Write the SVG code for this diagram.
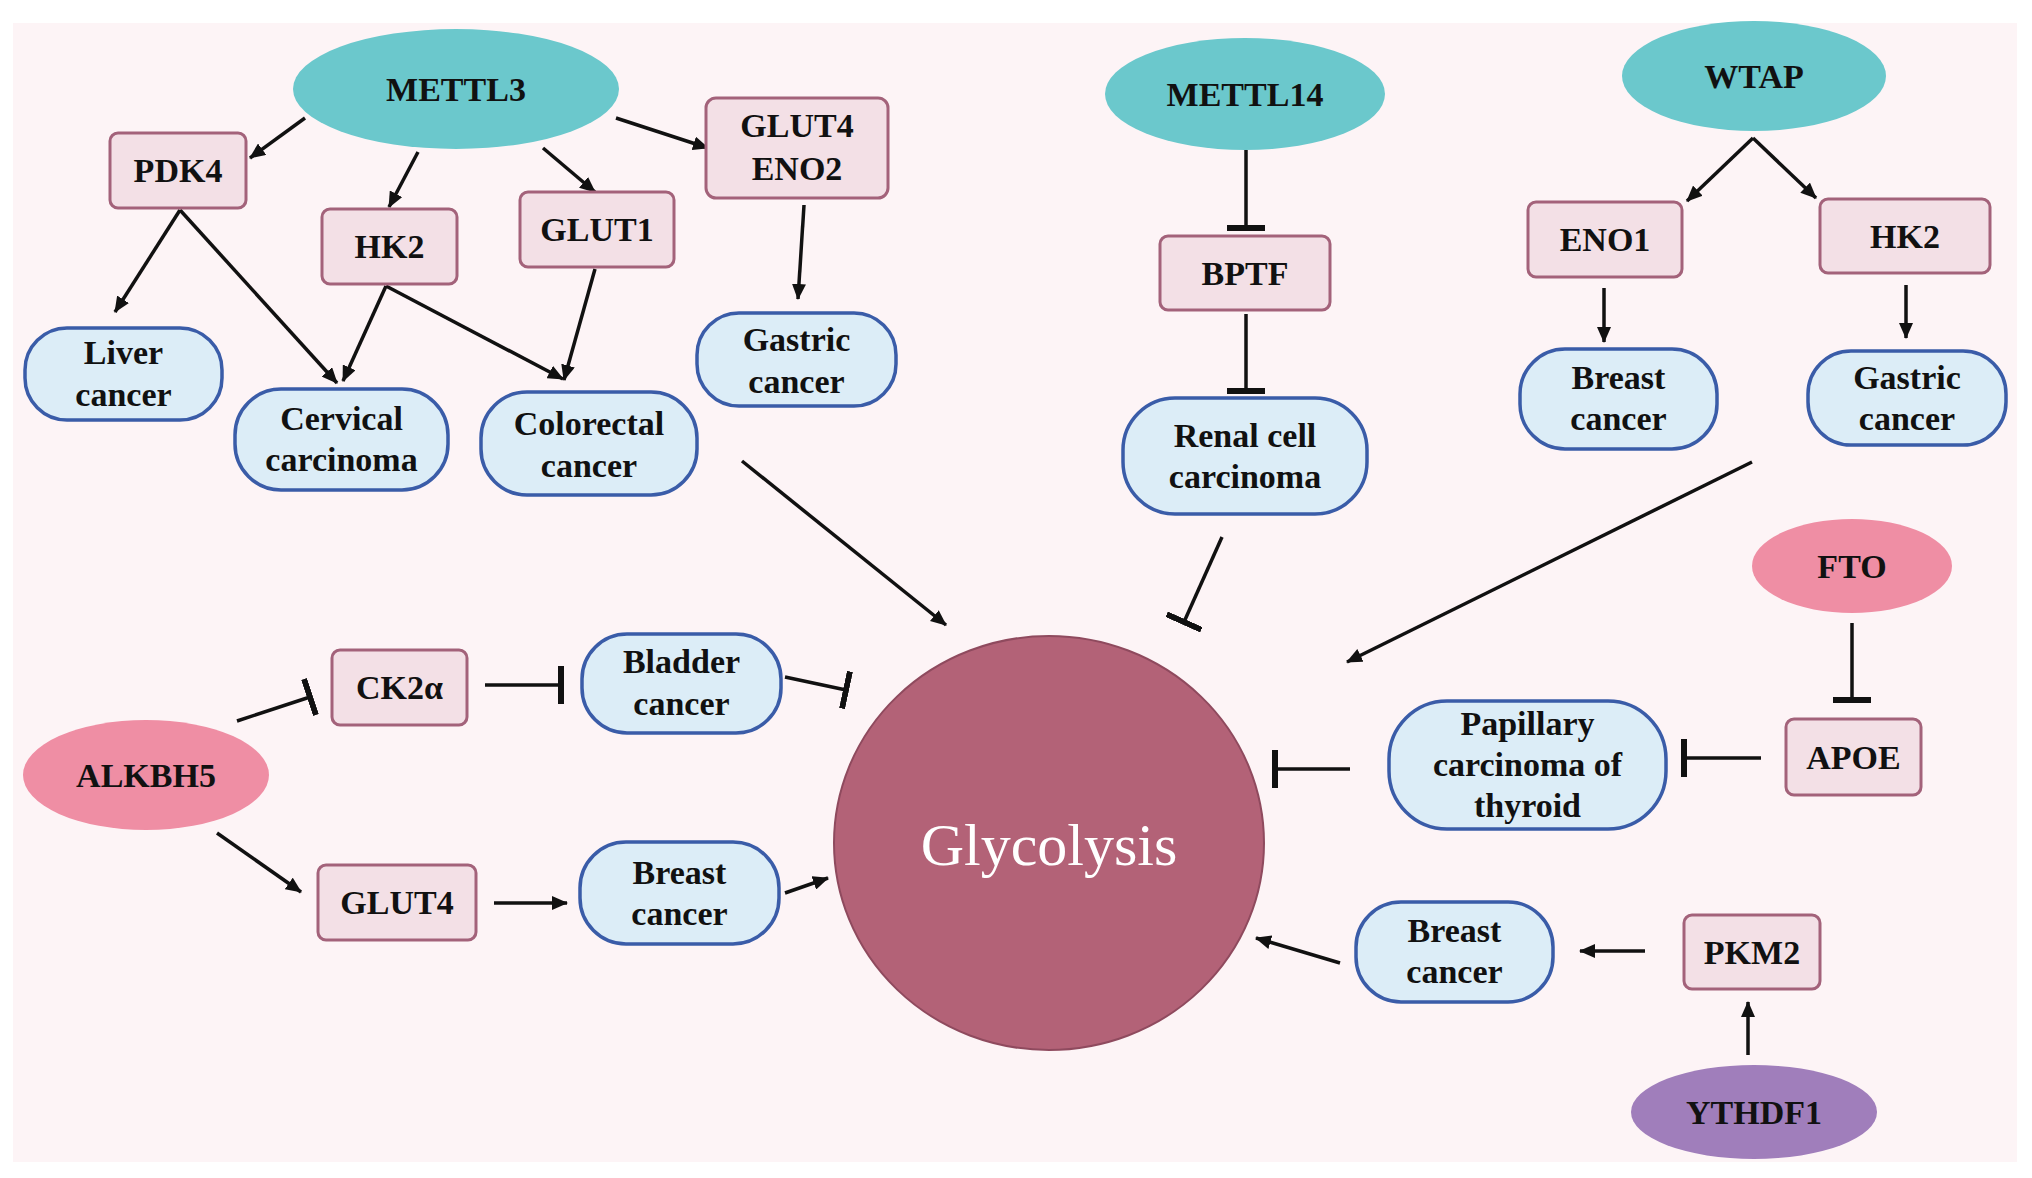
<svg xmlns="http://www.w3.org/2000/svg" width="2032" height="1178" viewBox="0 0 2032 1178">
<defs>
<marker id="arr" markerUnits="userSpaceOnUse" markerWidth="16" markerHeight="14" viewBox="0 0 16 14" refX="15" refY="7" orient="auto">
<path d="M0,0 L16,7 L0,14 z" fill="#111"/>
</marker>
<marker id="tee" markerUnits="userSpaceOnUse" markerWidth="6" markerHeight="38" viewBox="0 0 6 38" refX="3" refY="19" orient="auto">
<rect x="0" y="0" width="6" height="38" fill="#111"/>
</marker>
<style>
.bg{fill:#fdf4f6}
.teal{fill:#6bc8cc}
.pink{fill:#ef8ea4}
.purple{fill:#a07ebb}
.gene{fill:#f3e0e6;stroke:#a3627a;stroke-width:3}
.cancer{fill:#dcedf7;stroke:#3a5ca8;stroke-width:3.5}
.glyco{fill:#b36277;stroke:#8f4a5e;stroke-width:2}
text{font-family:"Liberation Serif","Times New Roman",serif;font-weight:bold;font-size:34px;fill:#111;text-anchor:middle}
.gt{font-weight:normal;font-size:60px;fill:#ffffff}
.a{stroke:#111;stroke-width:3.5;fill:none;marker-end:url(#arr)}
.t{stroke:#111;stroke-width:3.5;fill:none;marker-end:url(#tee)}
</style>
</defs>
<rect x="0" y="0" width="2032" height="1178" fill="#ffffff"/>
<rect class="bg" x="13" y="23" width="2004" height="1139"/>

<g id="connectors">
<path class="a" d="M305,118 L250,158"/>
<path class="a" d="M418,152 L389,207"/>
<path class="a" d="M543,148 L595,192"/>
<path class="a" d="M616,118 L708,148"/>
<path class="a" d="M180,210 L115,312"/>
<path class="a" d="M180,210 L337,383"/>
<path class="a" d="M386,286 L343,381"/>
<path class="a" d="M386,286 L563,379"/>
<path class="a" d="M595,269 L564,380"/>
<path class="a" d="M804,205 L798,299"/>
<path class="a" d="M742,461 L946,625"/>
<path class="a" d="M1753,138 L1687,201"/>
<path class="a" d="M1753,138 L1816,198"/>
<path class="a" d="M1604,288 L1604,342"/>
<path class="a" d="M1906,285 L1906,338"/>
<path class="a" d="M1752,462 L1347,662"/>
<path class="a" d="M217,833 L301,892"/>
<path class="a" d="M494,903 L567,903"/>
<path class="a" d="M785,893 L828,878"/>
<path class="a" d="M1645,951 L1580,951"/>
<path class="a" d="M1340,963 L1256,938"/>
<path class="a" d="M1748,1055 L1748,1002"/>
<path class="t" d="M1246,150 L1246,228"/>
<path class="t" d="M1246,314 L1246,391"/>
<path class="t" d="M1222,537 L1184,622"/>
<path class="t" d="M237,721 L310,697"/>
<path class="t" d="M485,685 L561,685"/>
<path class="t" d="M785,677 L846,690"/>
<path class="t" d="M1852,623 L1852,700"/>
<path class="t" d="M1761,758 L1684,758"/>
<path class="t" d="M1350,769 L1275,769"/>
</g>

<g id="glycolysis"><ellipse class="glyco" cx="1049" cy="843" rx="215" ry="207"/><text class="gt" x="1049" y="865">Glycolysis</text></g>

<g id="mettl3"><ellipse class="teal" cx="456" cy="89" rx="163" ry="60"/><text x="456" y="101">METTL3</text></g>
<g id="mettl14"><ellipse class="teal" cx="1245" cy="94" rx="140" ry="56"/><text x="1245" y="106">METTL14</text></g>
<g id="wtap"><ellipse class="teal" cx="1754" cy="76" rx="132" ry="55"/><text x="1754" y="88">WTAP</text></g>
<g id="fto"><ellipse class="pink" cx="1852" cy="566" rx="100" ry="47"/><text x="1852" y="578">FTO</text></g>
<g id="alkbh5"><ellipse class="pink" cx="146" cy="775" rx="123" ry="55"/><text x="146" y="787">ALKBH5</text></g>
<g id="ythdf1"><ellipse class="purple" cx="1754" cy="1112" rx="123" ry="47"/><text x="1754" y="1124">YTHDF1</text></g>

<g id="pdk4"><rect class="gene" x="110" y="133" width="136" height="75" rx="8"/><text x="178" y="182">PDK4</text></g>
<g id="hk2-left"><rect class="gene" x="322" y="209" width="135" height="75" rx="8"/><text x="389.5" y="258">HK2</text></g>
<g id="glut1"><rect class="gene" x="520" y="192" width="154" height="75" rx="8"/><text x="597" y="241">GLUT1</text></g>
<g id="glut4-eno2"><rect class="gene" x="706" y="98" width="182" height="100" rx="10"/><text x="797" y="137">GLUT4</text><text x="797" y="180">ENO2</text></g>
<g id="bptf"><rect class="gene" x="1160" y="236" width="170" height="74" rx="8"/><text x="1245" y="285">BPTF</text></g>
<g id="eno1"><rect class="gene" x="1528" y="202" width="154" height="75" rx="8"/><text x="1605" y="251">ENO1</text></g>
<g id="hk2-right"><rect class="gene" x="1820" y="199" width="170" height="74" rx="8"/><text x="1905" y="248">HK2</text></g>
<g id="ck2a"><rect class="gene" x="332" y="650" width="135" height="75" rx="8"/><text x="399.5" y="699">CK2α</text></g>
<g id="glut4"><rect class="gene" x="318" y="865" width="158" height="75" rx="8"/><text x="397" y="914">GLUT4</text></g>
<g id="apoe"><rect class="gene" x="1786" y="719" width="135" height="76" rx="8"/><text x="1853.5" y="769">APOE</text></g>
<g id="pkm2"><rect class="gene" x="1684" y="915" width="136" height="74" rx="8"/><text x="1752" y="964">PKM2</text></g>

<g id="liver-cancer"><rect class="cancer" x="25" y="328" width="197" height="92" rx="42"/><text x="123.5" y="364">Liver</text><text x="123.5" y="406">cancer</text></g>
<g id="cervical-carcinoma"><rect class="cancer" x="235" y="389" width="213" height="101" rx="46"/><text x="341.5" y="430">Cervical</text><text x="341.5" y="471">carcinoma</text></g>
<g id="colorectal-cancer"><rect class="cancer" x="481" y="392" width="216" height="103" rx="46"/><text x="589" y="435">Colorectal</text><text x="589" y="477">cancer</text></g>
<g id="gastric-cancer-top"><rect class="cancer" x="697" y="313" width="199" height="93" rx="42"/><text x="796.5" y="351">Gastric</text><text x="796.5" y="393">cancer</text></g>
<g id="renal-cell-carcinoma"><rect class="cancer" x="1123" y="398" width="244" height="116" rx="52"/><text x="1245" y="447">Renal cell</text><text x="1245" y="488">carcinoma</text></g>
<g id="breast-cancer-wtap"><rect class="cancer" x="1520" y="349" width="197" height="100" rx="45"/><text x="1618.5" y="389">Breast</text><text x="1618.5" y="430">cancer</text></g>
<g id="gastric-cancer-wtap"><rect class="cancer" x="1808" y="351" width="198" height="94" rx="43"/><text x="1907" y="389">Gastric</text><text x="1907" y="430">cancer</text></g>
<g id="bladder-cancer"><rect class="cancer" x="582" y="634" width="199" height="99" rx="45"/><text x="681.5" y="673">Bladder</text><text x="681.5" y="715">cancer</text></g>
<g id="breast-cancer-alkbh5"><rect class="cancer" x="580" y="842" width="199" height="102" rx="46"/><text x="679.5" y="884">Breast</text><text x="679.5" y="925">cancer</text></g>
<g id="papillary"><rect class="cancer" x="1389" y="701" width="277" height="128" rx="58"/><text x="1527.5" y="735">Papillary</text><text x="1527.5" y="776">carcinoma of</text><text x="1527.5" y="817">thyroid</text></g>
<g id="breast-cancer-ythdf1"><rect class="cancer" x="1356" y="902" width="197" height="100" rx="45"/><text x="1454.5" y="942">Breast</text><text x="1454.5" y="983">cancer</text></g>
</svg>
